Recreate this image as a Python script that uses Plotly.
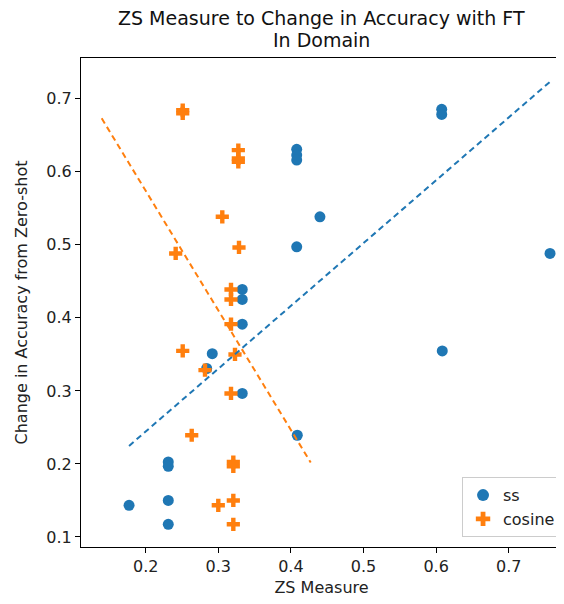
import plotly.graph_objects as go

# ZS measure values (x) and change in accuracy (y)
ss_x = [0.1771, 0.2311, 0.2311, 0.2311, 0.2311, 0.2917, 0.2840, 0.3330, 0.3330, 0.3330,
        0.3330, 0.4080, 0.4080, 0.4080, 0.4080, 0.4400, 0.6077, 0.6077, 0.7569, 0.6085, 0.4088]
ss_y = [0.1434, 0.1174, 0.1500, 0.2027, 0.1968, 0.3510, 0.3307, 0.2965, 0.3914, 0.4252,
        0.4389, 0.6307, 0.6229, 0.6160, 0.4973, 0.5384, 0.6855, 0.6786, 0.4882, 0.3548, 0.2393]

cos_x = [0.2510, 0.2510, 0.3276, 0.3276, 0.3276, 0.3055, 0.3285, 0.2413, 0.3175, 0.3175,
         0.3175, 0.2510, 0.3230, 0.2817, 0.3175, 0.2634, 0.3207, 0.3207, 0.3207, 0.3000, 0.3207]
cos_y = [0.6845, 0.6800, 0.6297, 0.6183, 0.6137, 0.5384, 0.4964, 0.4882, 0.4389, 0.4252,
         0.3914, 0.3548, 0.3499, 0.3284, 0.2965, 0.2393, 0.2027, 0.1968, 0.1500, 0.1434, 0.1174]

# trend line endpoints
ss_trend_x = [0.1771, 0.7569]
ss_trend_y = [0.2247, 0.7233]
cos_trend_x = [0.1394, 0.4273]
cos_trend_y = [0.6732, 0.2019]

title_lines = ["ZS Measure to Change in Accuracy with FT", "In Domain"]

BLUE = "#1f77b4"
ORANGE = "#ff7f0e"
FONT = "DejaVu Sans"

fig = go.Figure()
fig.add_trace(go.Scatter(x=ss_x, y=ss_y, mode="markers", name="ss",
                         marker=dict(color=BLUE, size=11, symbol="circle", line=dict(width=0))))
fig.add_trace(go.Scatter(x=cos_x, y=cos_y, mode="markers", name="cosine",
                         marker=dict(color=ORANGE, size=11, symbol="cross", line=dict(width=0))))
fig.add_trace(go.Scatter(x=ss_trend_x, y=ss_trend_y, mode="lines", showlegend=False,
                         line=dict(color=BLUE, width=2, dash="6px,4px")))
fig.add_trace(go.Scatter(x=cos_trend_x, y=cos_trend_y, mode="lines", showlegend=False,
                         line=dict(color=ORANGE, width=2, dash="6px,4px")))

axis_common = dict(showline=True, mirror=True, linecolor="black", linewidth=1,
                   ticks="outside", ticklen=5, tickcolor="black", tickwidth=1,
                   showgrid=False, zeroline=False, automargin=False,
                   tickfont=dict(family=FONT, size=16, color="#222"))

# the page body adds an 8px offset, so the figure is 8px smaller than the window
fig.update_layout(
    width=556, height=596,
    margin=dict(l=73, r=2, t=50, b=57),
    plot_bgcolor="white", paper_bgcolor="white",
    xaxis=dict(range=[0.1109, 0.7734], tickvals=[0.2, 0.3, 0.4, 0.5, 0.6, 0.7],
               ticktext=["0.2", "0.3", "0.4", "0.5", "0.6", "0.7"],
               title=dict(text="ZS Measure", standoff=6,
                          font=dict(family=FONT, size=16, color="#222")),
               **axis_common),
    yaxis=dict(range=[0.0863, 0.7558], tickvals=[0.1, 0.2, 0.3, 0.4, 0.5, 0.6, 0.7],
               ticktext=["0.1", "0.2", "0.3", "0.4", "0.5", "0.6", "0.7"],
               title=dict(text="Change in Accuracy from Zero-shot", standoff=14,
                          font=dict(family=FONT, size=16, color="#222")),
               **axis_common),
    legend=dict(x=0.998, xanchor="right", y=0.02, yanchor="bottom",
                bgcolor="white", bordercolor="#cccccc", borderwidth=1,
                font=dict(family=FONT, size=16, color="#222"),
                itemsizing="constant"),
    showlegend=True,
)

for txt, yy in zip(title_lines, [1.0818, 1.0368]):
    fig.add_annotation(text=txt, x=0.5, xref="paper", xanchor="center",
                       y=yy, yref="paper", yanchor="middle", showarrow=False,
                       font=dict(family=FONT, size=19, color="#111"))

fig.write_html("out.html")
